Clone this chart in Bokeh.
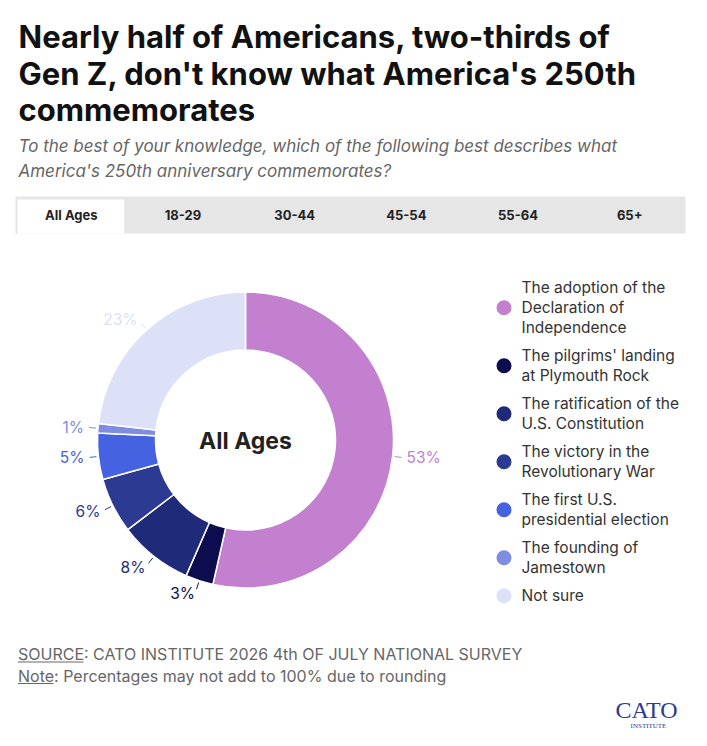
import numpy as np
from bokeh.plotting import figure
from bokeh.models import Range1d
from bokeh.embed import file_html
from bokeh.resources import INLINE
from bokeh.core.properties import value

# ---------------- data ----------------
title_lines = ["Nearly half of Americans, two-thirds of",
               "Gen Z, don't know what America's 250th",
               "commemorates"]
subtitle_lines = ["To the best of your knowledge, which of the following best describes what",
                  "America's 250th anniversary commemorates?"]
tabs = ["All Ages", "18-29", "30-44", "45-54", "55-64", "65+"]
categories = ["The adoption of the Declaration of Independence",
              "The pilgrims' landing at Plymouth Rock",
              "The ratification of the U.S. Constitution",
              "The victory in the Revolutionary War",
              "The first U.S. presidential election",
              "The founding of Jamestown",
              "Not sure"]
legend_lines = [["The adoption of the", "Declaration of", "Independence"],
                ["The pilgrims' landing", "at Plymouth Rock"],
                ["The ratification of the", "U.S. Constitution"],
                ["The victory in the", "Revolutionary War"],
                ["The first U.S.", "presidential election"],
                ["The founding of", "Jamestown"],
                ["Not sure"]]
values = [53, 3, 8, 6, 5, 1, 23]
colors = ["#c280cf", "#0c0c4f", "#1f2b78", "#2c3a92", "#4562e0", "#7f8de0", "#dde1f7"]
center_label = "All Ages"
source_text = ": CATO INSTITUTE 2026 4th OF JULY NATIONAL SURVEY"
note_text = ": Percentages may not add to 100% due to rounding"

# ---------------- layout ----------------
W, H = 691, 730
FONT = value("Inter")


def Y(sy):
    return H - sy


def mid_of(baseline, size):
    # vertical centre used with text_baseline="middle"
    return baseline - 0.36 * size


p = figure(width=W, height=H, x_range=Range1d(0, W), y_range=Range1d(0, H),
           output_backend="svg", toolbar_location=None, min_border=0,
           x_axis_location=None, y_axis_location=None)
p.grid.visible = False
p.outline_line_color = None
p.background_fill_color = "white"
p.border_fill_color = "white"

# title
for i, t in enumerate(title_lines):
    p.text(x=[18], y=[Y(mid_of(47.5 + 36.5 * i, 31))], text=[t], text_font=FONT, text_font_size="31px",
           text_font_style="bold", text_color="#111111", text_baseline="middle", text_align="left")
for i, t in enumerate(subtitle_lines):
    p.text(x=[18], y=[Y(mid_of(151.5 + 25 * i, 17))], text=[t], text_font=FONT, text_font_size="17px",
           text_font_style="italic", text_color="#666666", text_baseline="middle", text_align="left")

# tabs
bar_l, bar_r, bar_t, bar_b = 15, 685, 196, 233
p.quad(left=[bar_l], right=[bar_r], top=[Y(bar_t)], bottom=[Y(bar_b)], fill_color="#e6e6e6", line_color=None)
cell = (bar_r - bar_l) / len(tabs)
p.quad(left=[bar_l + 2], right=[bar_l + cell - 3], top=[Y(bar_t + 3)], bottom=[Y(bar_b)],
       fill_color="white", line_color=None)
p.text(x=[bar_l + cell * (i + 0.5) for i in range(len(tabs))], y=[Y(214)] * len(tabs), text=tabs,
       text_font=FONT, text_font_size="13px", text_font_style="bold", text_color="#222222",
       text_baseline="middle", text_align="center")

# donut
cx, cy = 245, Y(439.5)
r_in, r_out = 90, 148
vals = np.array(values, dtype=float)
frac = vals / vals.sum()
cum = np.concatenate([[0], np.cumsum(frac)])
start = np.pi / 2 - 2 * np.pi * cum[:-1]
end = np.pi / 2 - 2 * np.pi * cum[1:]
p.annular_wedge(x=cx, y=cy, inner_radius=r_in, outer_radius=r_out, start_angle=start, end_angle=end,
                direction="clock", inner_radius_units="screen", outer_radius_units="screen",
                fill_color=colors, line_color="white", line_width=1.5)

mid = 2 * np.pi * (cum[:-1] + cum[1:]) / 2  # clockwise from top
sx, sy = np.sin(mid), np.cos(mid)
p.segment(x0=cx + (r_out + 2) * sx, y0=cy + (r_out + 2) * sy,
          x1=cx + (r_out + 9) * sx, y1=cy + (r_out + 9) * sy, line_color=colors, line_width=1)
lab_r = 162
lx = cx + lab_r * sx
ly = cy + lab_r * sy
aligns = ["left" if s > 0 else "right" for s in sx]
for i in range(len(values)):
    p.text(x=[lx[i]], y=[ly[i]], text=[f"{values[i]}%"], text_font=FONT, text_font_size="15.5px",
           text_color=colors[i], text_baseline="middle", text_align=aligns[i])

p.text(x=[cx], y=[Y(mid_of(448.3, 23))], text=[center_label], text_font=FONT, text_font_size="23px",
       text_font_style="bold", text_color="#222222", text_baseline="middle", text_align="center")

# legend
leg_x, leg_tx = 503.5, 521
base = 292.7
for i, lines in enumerate(legend_lines):
    bl = [base + 20 * k for k in range(len(lines))]
    p.text(x=[leg_tx] * len(lines), y=[Y(mid_of(b, 15.5)) for b in bl], text=lines, text_font=FONT,
           text_font_size="15.5px", text_color="#333333", text_baseline="middle", text_align="left")
    p.scatter(x=[leg_x], y=[Y(np.mean(bl) - 5.5)], size=15, marker="circle",
              fill_color=colors[i], line_color=None)
    base = bl[-1] + 28

# footer
p.text(x=[17.5, 17.5], y=[Y(mid_of(659.5, 16)), Y(mid_of(681, 16))],
       text=["SOURCE" + source_text, "Note" + note_text],
       text_font=FONT, text_font_size="16px", text_color="#666666",
       text_baseline="middle", text_align="left")
p.segment(x0=[17.5, 17.5], y0=[Y(661.5), Y(683)], x1=[83, 53], y1=[Y(661.5), Y(683)],
          line_color="#666666", line_width=1)

# logo
p.text(x=[646], y=[Y(mid_of(718, 24))], text=["CATO"], text_font=value("Liberation Serif"),
       text_font_size="24px", text_color="#2e3a8f", text_baseline="middle", text_align="center")
p.text(x=[648], y=[Y(mid_of(728.5, 7))], text=["INSTITUTE"], text_font=value("Liberation Serif"),
       text_font_size="7px", text_color="#2e3a8f", text_baseline="middle", text_align="center")

open("out.html", "w").write(file_html(p, INLINE))
